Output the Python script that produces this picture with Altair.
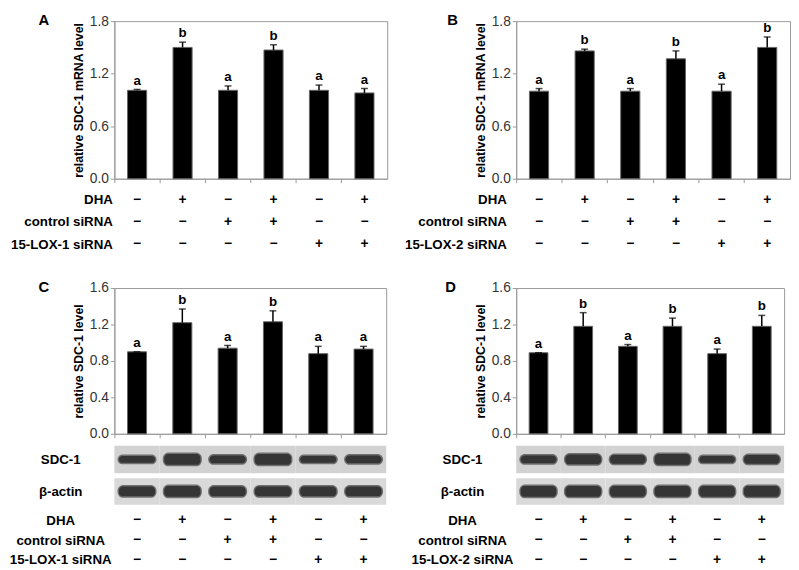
import altair as alt
import pandas as pd

lanes = ["1", "2", "3", "4", "5", "6"]
dha = ["−", "+", "−", "+", "−", "+"]
ctrl = ["−", "−", "+", "+", "−", "−"]
lox = ["−", "−", "−", "−", "+", "+"]

a_mean = [1.01, 1.50, 1.01, 1.47, 1.01, 0.98]
a_err = [0.01, 0.06, 0.05, 0.06, 0.06, 0.05]
a_sig = ["a", "b", "a", "b", "a", "a"]
b_mean = [1.00, 1.46, 1.00, 1.37, 1.00, 1.50]
b_err = [0.03, 0.02, 0.03, 0.09, 0.08, 0.12]
b_sig = ["a", "b", "a", "b", "a", "b"]
c_mean = [0.90, 1.22, 0.94, 1.23, 0.88, 0.93]
c_err = [0.00, 0.15, 0.03, 0.12, 0.08, 0.03]
c_sig = ["a", "b", "a", "b", "a", "a"]
d_mean = [0.89, 1.18, 0.96, 1.18, 0.88, 1.18]
d_err = [0.00, 0.15, 0.02, 0.09, 0.05, 0.12]
d_sig = ["a", "b", "a", "b", "a", "b"]

# western blot band thickness (density) per lane
c_sdc1_band = [7, 11, 8, 11, 7, 8]
c_actin_band = [10, 11, 10, 10, 10, 10]
d_sdc1_band = [8, 10, 9, 11, 7, 9]
d_actin_band = [11, 11, 11, 11, 11, 11]

mrna_ticks = [0.0, 0.6, 1.2, 1.8]
prot_ticks = [0.0, 0.4, 0.8, 1.2, 1.6]

GRAY = "#999999"


def xband(axis):
    return alt.X("lane:N", sort=lanes,
                 scale=alt.Scale(paddingInner=0, paddingOuter=0), axis=axis)


def bars(mean, err, sig, ymax, ticks, ytitle, w, h, letter, ldx):
    df = pd.DataFrame({"lane": lanes, "mean": mean, "err": err, "sig": sig})
    df["top"] = df["mean"] + df["err"]
    xaxis = alt.Axis(title=None, labels=False, bandPosition=0, tickSize=4,
                     tickColor=GRAY, domainColor=GRAY, grid=False)
    yaxis = alt.Axis(values=ticks, format=".1f", title=ytitle, grid=False,
                     tickSize=4, tickColor=GRAY, domainColor=GRAY,
                     labelFontSize=14, labelColor="#333333", labelPadding=2,
                     titleFontSize=12.5, titleFontWeight="bold",
                     titleColor="black", titlePadding=4)
    ysc = alt.Scale(domain=[0, ymax], nice=False)
    base = alt.Chart(df)
    bar = base.mark_bar(color="black", stroke="#666666", strokeWidth=1,
                        width=alt.RelativeBandSize(0.42)).encode(
        x=xband(xaxis), y=alt.Y("mean:Q", scale=ysc, axis=yaxis))
    rule = base.mark_rule(color="black", strokeWidth=1.5).encode(
        x=xband(xaxis), y=alt.Y("mean:Q", scale=ysc, axis=yaxis), y2="top:Q")
    cap = base.mark_tick(color="black", size=7, thickness=1.5,
                         orient="horizontal").encode(
        x=xband(xaxis), y=alt.Y("top:Q", scale=ysc, axis=yaxis))
    txt = base.mark_text(fontWeight="bold", fontSize=13.5, baseline="alphabetic",
                         dy=-5, color="black").encode(
        x=xband(xaxis), y=alt.Y("top:Q", scale=ysc, axis=yaxis), text="sig:N")
    return alt.layer(bar, rule, cap, txt).properties(
        width=w, height=h,
        view=alt.ViewBackground(stroke=GRAY, strokeWidth=1),
        title=alt.TitleParams(text=letter, anchor="start", frame="group",
                              dx=ldx, fontSize=15, fontWeight="bold",
                              offset=0, baseline="alphabetic", dy=26,
                              color="black"))


def table(rows, w, h, align, pad):
    recs = []
    for name, syms in rows:
        for l, s in zip(lanes, syms):
            recs.append({"lane": l, "row": name, "sym": s})
    df = pd.DataFrame(recs)
    names = [r[0] for r in rows]
    return alt.Chart(df).mark_text(fontWeight="bold", fontSize=14,
                                   baseline="middle", color="black").encode(
        x=alt.X("lane:N", sort=lanes,
                scale=alt.Scale(type="point", padding=0.5), axis=None),
        y=alt.Y("row:N", sort=names,
                scale=alt.Scale(type="point", padding=0.5),
                axis=alt.Axis(title=None, domain=False, ticks=False,
                              tickSize=0, grid=False, labelAlign=align,
                              labelPadding=pad, labelFontSize=13.5,
                              labelFontWeight="bold", labelColor="black")),
        text="sym:N").properties(width=w, height=h)


def blot(bands, label, w, h, pad, bg):
    df = pd.DataFrame({"lane": lanes, "band": bands})
    yaxis = alt.Axis(title=label, labels=False, ticks=False, domain=False,
                     grid=False, titleAngle=0, titleAlign="center",
                     titleBaseline="middle", titleX=-pad, titleY=h / 2,
                     titleFontSize=13.5, titleFontWeight="bold",
                     titleColor="black")
    ysc = alt.Scale(domain=[-h / 2, h / 2], nice=False)
    base = alt.Chart(df).transform_calculate(
        lo="-datum.band/2", hi="datum.band/2",
        lo2="-datum.band/2-1.5", hi2="datum.band/2+1.5")
    back = base.mark_rect(color=bg).encode(x=xband(None))
    halo = base.mark_bar(color="#6f6f6f", cornerRadius=6,
                         width=alt.RelativeBandSize(0.86)).encode(
        x=xband(None), y=alt.Y("lo2:Q", scale=ysc, axis=yaxis), y2="hi2:Q")
    core = base.mark_bar(color="#353535", cornerRadius=4,
                         width=alt.RelativeBandSize(0.80)).encode(
        x=xband(None), y=alt.Y("lo:Q", scale=ysc, axis=yaxis), y2="hi:Q")
    return alt.layer(back, halo, core).properties(width=w, height=h)


def spacer(h):
    return alt.Chart(pd.DataFrame({"v": [0]})).mark_point(opacity=0).properties(
        width=1, height=h)


top_rows_a = [("DHA", dha), ("control siRNA", ctrl), ("15-LOX-1 siRNA", lox)]
top_rows_b = [("DHA", dha), ("control siRNA", ctrl), ("15-LOX-2 siRNA", lox)]

cells = [
    bars(a_mean, a_err, a_sig, 1.8, mrna_ticks, "relative SDC-1 mRNA level",
         277, 160, "A", -77),
    bars(b_mean, b_err, b_sig, 1.8, mrna_ticks, "relative SDC-1 mRNA level",
         278, 160, "B", -70),
    spacer(10), spacer(10),
    table(top_rows_a, 277, 68, "right", 2),
    table(top_rows_b, 278, 68, "right", 10),
    spacer(33), spacer(33),
    bars(c_mean, c_err, c_sig, 1.6, prot_ticks, "relative SDC-1 level",
         276, 148, "C", -77),
    bars(d_mean, d_err, d_sig, 1.6, prot_ticks, "relative SDC-1 level",
         272, 148, "D", -72),
    spacer(12), spacer(12),
    blot(c_sdc1_band, "SDC-1", 276, 28, 55, "#d2d2d2"),
    blot(d_sdc1_band, "SDC-1", 272, 28, 55, "#d2d2d2"),
    spacer(5), spacer(5),
    blot(c_actin_band, "β-actin", 276, 27, 55, "#d9d9d9"),
    blot(d_actin_band, "β-actin", 272, 27, 55, "#d9d9d9"),
    spacer(6), spacer(6),
    table(top_rows_a, 276, 60, "center", 55),
    table(top_rows_b, 272, 60, "center", 55),
]

chart = alt.concat(*cells, columns=2, spacing={"row": 0, "column": 131},
                   bounds="flush", align="each").properties(
    padding=0, background="white"
).configure(font="Liberation Sans").configure_view(stroke="transparent")

chart.save("out.html", embed_options={"renderer": "svg", "actions": False})
